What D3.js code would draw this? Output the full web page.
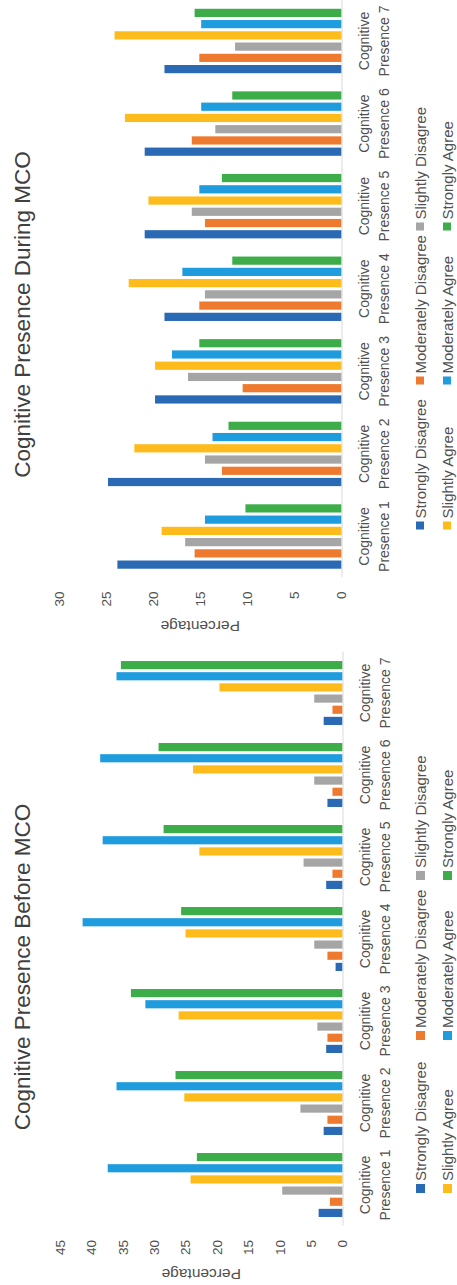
<!DOCTYPE html>
<html>
<head>
<meta charset="utf-8">
<script src="https://cdn.jsdelivr.net/npm/d3@7"></script>
<style>
  html, body { margin: 0; padding: 0; background: #fff; overflow: hidden; }
  svg { display: block; font-family: "Liberation Sans", Arial, sans-serif; }
</style>
</head>
<body>
<svg id="chart" width="457" height="1285"></svg>
<script>
// ---------- DATA ----------
const categories = ["Cognitive Presence 1", "Cognitive Presence 2", "Cognitive Presence 3",
  "Cognitive Presence 4", "Cognitive Presence 5", "Cognitive Presence 6", "Cognitive Presence 7"];
const seriesNames = ["Strongly Disagree", "Moderately Disagree", "Slightly Disagree",
  "Slightly Agree", "Moderately Agree", "Strongly Agree"];
const seriesColors = ["#2A69B4", "#EE7A2F", "#A5A5A5", "#FDBB1C", "#1E9CDE", "#3DAD4A"];

// Before MCO (percent)
const beforeStronglyDisagree   = [3.8, 3.0, 2.6, 1.1, 2.6, 2.4, 3.0];
const beforeModeratelyDisagree = [2.0, 2.4, 2.4, 2.4, 1.6, 1.6, 1.6];
const beforeSlightlyDisagree   = [9.6, 6.7, 4.0, 4.5, 6.2, 4.5, 4.5];
const beforeSlightlyAgree      = [24.2, 25.2, 26.1, 25.0, 22.8, 23.8, 19.6];
const beforeModeratelyAgree    = [37.4, 36.0, 31.4, 41.4, 38.2, 38.6, 36.0];
const beforeStronglyAgree      = [23.2, 26.6, 33.7, 25.7, 28.5, 29.3, 35.3];
const beforeTicks = [0, 5, 10, 15, 20, 25, 30, 35, 40, 45];

// During MCO (percent)
const duringStronglyDisagree   = [23.8, 24.8, 19.8, 18.8, 20.9, 20.9, 18.8];
const duringModeratelyDisagree = [15.6, 12.7, 10.5, 15.1, 14.5, 15.9, 15.1];
const duringSlightlyDisagree   = [16.6, 14.5, 16.3, 14.5, 15.9, 13.4, 11.3];
const duringSlightlyAgree      = [19.1, 22.0, 19.8, 22.6, 20.5, 23.0, 24.1];
const duringModeratelyAgree    = [14.5, 13.7, 18.0, 16.9, 15.1, 14.9, 14.9];
const duringStronglyAgree      = [10.2, 12.0, 15.1, 11.6, 12.7, 11.6, 15.6];
const duringTicks = [0, 5, 10, 15, 20, 25, 30];

const beforeTitle = "Cognitive Presence Before MCO";
const duringTitle = "Cognitive Presence During MCO";
const axisTitle = "Percentage";

// ---------- DRAW ----------
const svg = d3.select("#chart");
const textColor = "#505050";

function drawChart(cfg) {
  // local (unrotated) frame; whole chart rotated -90deg
  const g = svg.append("g").attr("transform", `translate(0,${cfg.ty}) rotate(-90)`);
  const values = [cfg.sd, cfg.md, cfg.sld, cfg.sla, cfg.ma, cfg.sa];
  const rows = categories.map((c, i) => ({ cat: c, vals: seriesNames.map((s, j) => ({ s, j, v: values[j][i] })) }));

  const x0 = d3.scaleBand().domain(categories).range(cfg.xRange).paddingInner(0.22).paddingOuter(0.11);
  const x1 = d3.scaleBand().domain(seriesNames).range([0, x0.bandwidth()]).paddingInner(0.27);
  const y = d3.scaleLinear().domain([0, d3.max(cfg.ticks)]).range([cfg.base, cfg.top]);

  // title
  g.append("text").attr("x", cfg.titleX).attr("y", 30)
    .attr("text-anchor", "middle").attr("font-size", 22.5).attr("fill", "#404040")
    .text(cfg.title);

  // value axis labels
  const ya = g.append("g").attr("transform", "translate(45,0)")
    .call(d3.axisLeft(y).tickValues(cfg.ticks).tickSize(0).tickPadding(0));
  ya.select(".domain").remove();
  ya.selectAll("text").attr("font-size", 13.5).attr("fill", textColor).attr("font-family", null);

  // axis title
  g.append("text").attr("transform", `translate(16,${(cfg.base + cfg.top) / 2}) rotate(-90)`)
    .attr("text-anchor", "middle").attr("font-size", 15.5).attr("fill", textColor)
    .text(axisTitle);

  // bars
  const grp = g.append("g").selectAll("g").data(rows).join("g")
    .attr("transform", d => `translate(${x0(d.cat)},0)`);
  grp.selectAll("rect").data(d => d.vals).join("rect")
    .attr("x", d => x1(d.s)).attr("width", x1.bandwidth())
    .attr("y", d => y(d.v)).attr("height", d => y(0) - y(d.v))
    .attr("fill", d => seriesColors[d.j]);

  // category axis
  const xa = g.append("g").attr("transform", `translate(0,${cfg.base})`)
    .call(d3.axisBottom(x0).tickSize(0));
  xa.select(".domain").attr("stroke", "#D9D9D9").attr("stroke-width", 1);
  xa.selectAll("text").each(function(d) {
    const t = d3.select(this);
    const idx = d.indexOf(" ");
    t.text(null).attr("y", 0).attr("dy", null)
      .attr("font-size", 14).attr("fill", textColor).attr("font-family", null);
    t.append("tspan").attr("x", 0).attr("y", 27).text(d.slice(0, idx));
    t.append("tspan").attr("x", 0).attr("y", 47).text(d.slice(idx + 1));
  });

  // legend
  const rowsY = [426, 453];
  seriesNames.forEach((s, j) => {
    const r = Math.floor(j / 3), c = j % 3;
    const lx = cfg.legendX[c], ly = rowsY[r];
    g.append("rect").attr("x", lx).attr("y", ly - 10).attr("width", cfg.marker).attr("height", cfg.marker)
      .attr("fill", seriesColors[j]);
    g.append("text").attr("x", lx + cfg.marker + 3).attr("y", ly)
      .attr("font-size", 15).attr("fill", textColor).text(s);
  });
}

drawChart({
  ty: 1285, title: beforeTitle, titleX: 318, ticks: beforeTicks,
  sd: beforeStronglyDisagree, md: beforeModeratelyDisagree, sld: beforeSlightlyDisagree,
  sla: beforeSlightlyAgree, ma: beforeModeratelyAgree, sa: beforeStronglyAgree,
  base: 342.5, top: 60, xRange: [59, 633], legendX: [92, 245, 405], marker: 9
});
drawChart({
  ty: 636.5, title: duringTitle, titleX: 322, ticks: duringTicks,
  sd: duringStronglyDisagree, md: duringModeratelyDisagree, sld: duringSlightlyDisagree,
  sla: duringSlightlyAgree, ma: duringModeratelyAgree, sa: duringStronglyAgree,
  base: 341.5, top: 59, xRange: [58.7, 636.8], legendX: [107, 252, 406], marker: 8
});
</script>
</body>
</html>
